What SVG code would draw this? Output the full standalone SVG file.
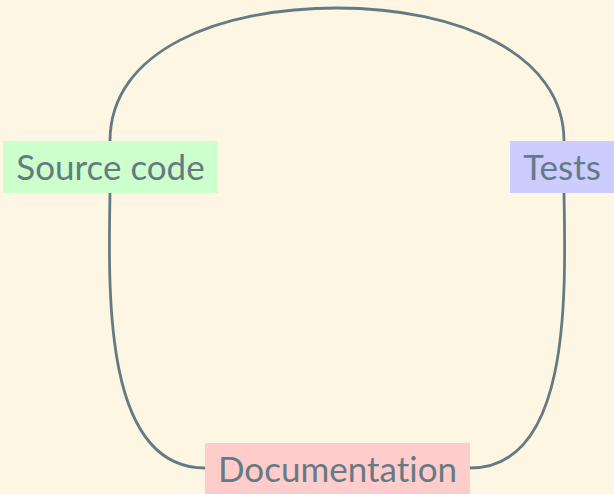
<svg xmlns="http://www.w3.org/2000/svg" width="614" height="494" viewBox="0 0 614 494">
<style>
.lbl{font-family:Lato,"Open Sans",sans-serif;font-size:35px;fill:#657b83;font-variant-ligatures:none}
.edge{fill:none;stroke:#657b83;stroke-width:2.8}
</style>
<rect width="614" height="494" fill="#fdf6e3"/>
<g id="connectors">
<path class="edge" d="M110,141 C110,50 220,8 337,8 C460,8 564,55 564,141"/>
<path class="edge" d="M110,193 C108,300 105,468 205,468"/>
<path class="edge" d="M564,193 C566,300 570,468 470,468"/>
</g>
<g id="source">
<rect x="3" y="141" width="215" height="52" fill="#ccffcc"/>
<text class="lbl" x="110.5" y="180" text-anchor="middle">Source code</text>
</g>
<g id="tests">
<rect x="510" y="141" width="104" height="52" fill="#ccccff"/>
<text class="lbl" x="562" y="180" text-anchor="middle">Tests</text>
</g>
<g id="docs">
<rect x="205" y="443" width="265" height="51" fill="#ffcccc"/>
<text class="lbl" x="337.5" y="482" text-anchor="middle">Documentation</text>
</g>
</svg>
